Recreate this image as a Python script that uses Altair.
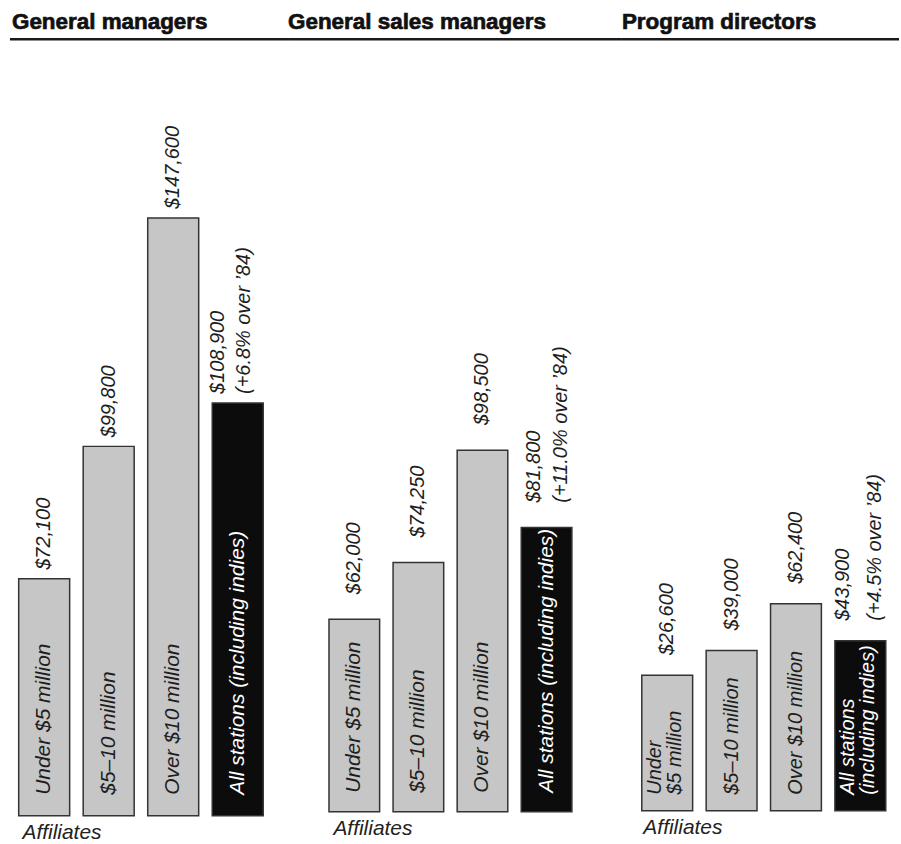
import altair as alt
import pandas as pd

# ---------------- data ----------------
panel_titles = ["General managers", "General sales managers", "Program directors"]
bar_keys = ["under5", "5to10", "over10", "all"]
bar_kind = ["affiliate", "affiliate", "affiliate", "all"]

inner_gm = ["Under $5 million", "$5–10 million", "Over $10 million", "All stations (including indies)"]
inner_gsm = ["Under $5 million", "$5–10 million", "Over $10 million", "All stations (including indies)"]
inner_pd = ["Under\n$5 million", "$5–10 million", "Over $10 million", "All stations\n(including indies)"]

values_gm = [72100, 99800, 147600, 108900]
values_gsm = [62000, 74250, 98500, 81800]
values_pd = [26600, 39000, 62400, 43900]

labels_gm = ["$72,100", "$99,800", "$147,600", "$108,900\n(+6.8% over ’84)"]
labels_gsm = ["$62,000", "$74,250", "$98,500", "$81,800\n(+11.0% over ’84)"]
labels_pd = ["$26,600", "$39,000", "$62,400", "$43,900\n(+4.5% over ’84)"]

group_label = "Affiliates"

# ---------------- styling per panel ----------------
FONT = "Liberation Sans"
panels = [
    dict(title=panel_titles[0], values=values_gm, labels=labels_gm, inner=inner_gm,
         width=279, height=779, domain=[22490, 185020], pad_outer=0.26, align=0.26,
         gap=9, val_lh=26, val_dy=-20, in_size=21, in_dx=21, in_lh=20, in_dy=-12,
         title_x=12, title_dx=2),
    dict(title=panel_titles[1], values=values_gsm, labels=labels_gsm, inner=inner_gsm,
         width=335, height=775, domain=[20495, 187162], pad_outer=0.71, align=0.45,
         gap=25, val_lh=28, val_dy=-13, in_size=21, in_dx=19, in_lh=20, in_dy=-12,
         title_x=45, title_dx=0),
    dict(title=panel_titles[2], values=values_pd, labels=labels_pd, inner=inner_pd,
         width=278, height=774, domain=[-41400, 345600], pad_outer=0.257, align=0.6,
         gap=20, val_lh=32, val_dy=-17, in_size=20, in_dx=16, in_lh=20, in_dy=-12,
         title_x=21, title_dx=0),
]


def make_panel(p):
    df = pd.DataFrame({
        "key": bar_keys,
        "kind": bar_kind,
        "value": p["values"],
        "vlabel": p["labels"],
        "ilabel": p["inner"],
    })
    df["vlines"] = df["vlabel"].str.count("\n") + 1
    df["ilines"] = df["ilabel"].str.count("\n") + 1
    lo = p["domain"][0]
    x = alt.X(
        "key:N",
        sort=bar_keys,
        scale=alt.Scale(paddingInner=0.21, paddingOuter=p["pad_outer"], align=p["align"]),
        axis=alt.Axis(
            labels=False, ticks=False, domain=False, grid=False,
            title=group_label, titleAnchor="start", titleAlign="left", titleX=p["title_x"],
            titleFont=FONT, titleFontSize=21, titleFontStyle="italic", titleFontWeight="normal",
            titleColor="#222", titlePadding=6,
        ),
    )
    y = alt.Y("value:Q", scale=alt.Scale(domain=p["domain"], zero=False, nice=False), axis=None)

    base = alt.Chart(df)
    is_all = "datum.kind == 'all'"

    bars = base.mark_bar(stroke="#333333", strokeWidth=1.5).encode(
        x=x, y=y, y2=alt.datum(lo),
        fill=alt.condition(is_all, alt.value("#0c0c0c"), alt.value("#c6c6c6")),
    )

    val_style = dict(angle=270, align="left", baseline="middle", dx=p["gap"], font=FONT,
                     fontSize=20, fontStyle="italic", lineBreak="\n", lineHeight=p["val_lh"],
                     color="#1e1e1e")
    value_text_1 = base.transform_filter("datum.vlines == 1").mark_text(**val_style).encode(
        x=x, y=y, text="vlabel:N")
    value_text_2 = base.transform_filter("datum.vlines == 2").mark_text(
        dy=p["val_dy"], **val_style).encode(x=x, y=y, text="vlabel:N")

    in_style = dict(angle=270, align="left", baseline="middle", dx=p["in_dx"], font=FONT,
                    fontSize=p["in_size"], fontStyle="italic", lineBreak="\n",
                    lineHeight=p["in_lh"])
    in_color = alt.condition(is_all, alt.value("#ffffff"), alt.value("#1e1e1e"))
    inner_text_1 = base.transform_filter("datum.ilines == 1").mark_text(**in_style).encode(
        x=x, y=alt.datum(lo), text="ilabel:N", color=in_color)
    inner_text_2 = base.transform_filter("datum.ilines == 2").mark_text(
        dy=p["in_dy"], **in_style).encode(x=x, y=alt.datum(lo), text="ilabel:N", color=in_color)

    one = alt.Chart(pd.DataFrame({"title": [p["title"]]}))
    rule = one.mark_rule(color="#1a1a1a", strokeWidth=2.5).encode(
        x=alt.value(0), x2=alt.value(p["width"]), y=alt.value(0)
    )
    title = one.mark_text(
        align="left", baseline="alphabetic", font=FONT, fontSize=22.5, fontWeight="bold",
        color="#111111", stroke="#111111", strokeWidth=0.7,
    ).encode(x=alt.value(p["title_dx"]), y=alt.value(-10), text="title:N")

    return alt.layer(bars, value_text_1, value_text_2, inner_text_1, inner_text_2,
                     rule, title).properties(width=p["width"], height=p["height"])


chart = alt.hconcat(*[make_panel(p) for p in panels], spacing=0, bounds="flush").properties(
    padding={"left": 8, "top": 10, "right": 0, "bottom": 0}
).configure_view(stroke=None)

chart.save("out.html", embed_options={"renderer": "svg", "actions": False})
